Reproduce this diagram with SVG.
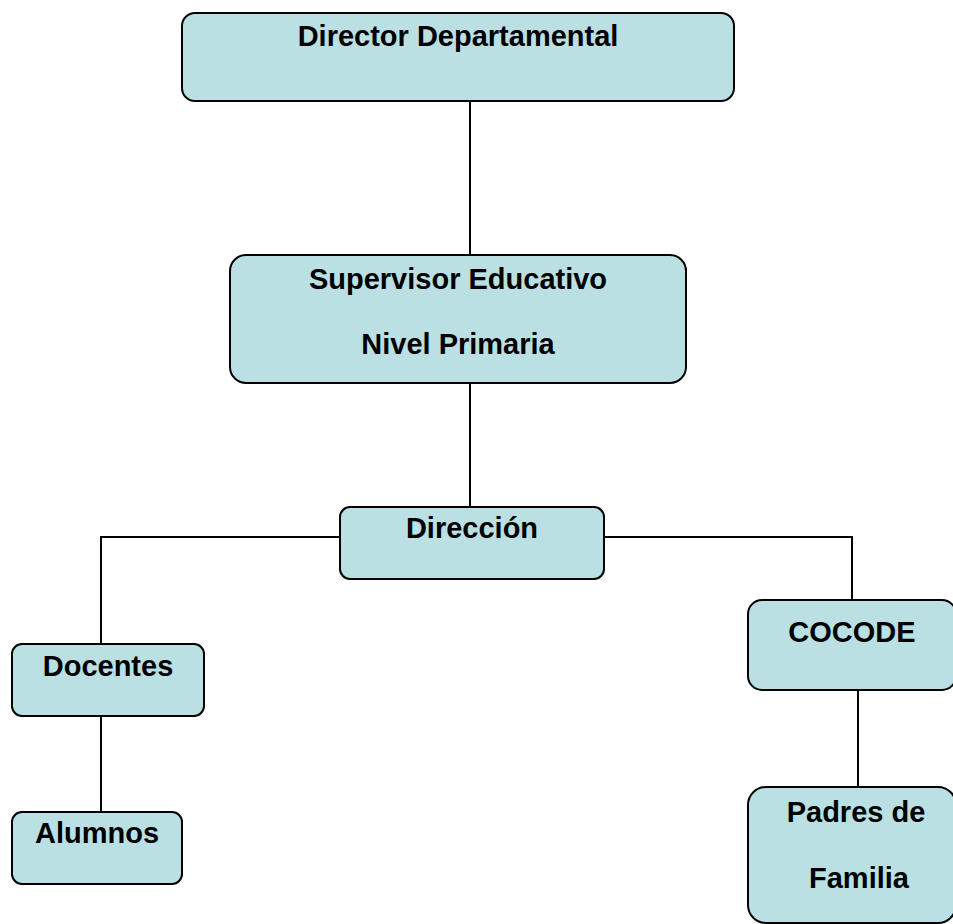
<svg xmlns="http://www.w3.org/2000/svg" width="953" height="924" viewBox="0 0 953 924">
<style>
.box{fill:#bae0e3;stroke:#000;stroke-width:2}
.lbl{font-family:"Liberation Sans",Arial,sans-serif;font-weight:bold;font-size:29px;fill:#000;text-anchor:middle}
.conn{fill:none;stroke:#000;stroke-width:2}
</style>
<rect x="0" y="0" width="953" height="924" fill="#fff"/>
<g id="connectors">
<path class="conn" d="M470,101 V255"/>
<path class="conn" d="M470,383 V507"/>
<path class="conn" d="M340,537 H101 V644"/>
<path class="conn" d="M604,537 H852 V600"/>
<path class="conn" d="M101,716 V812"/>
<path class="conn" d="M858,690 V787"/>
</g>
<g id="director">
<rect class="box" x="182" y="13" width="552" height="88" rx="13"/>
<text class="lbl" x="458" y="46">Director Departamental</text>
</g>
<g id="supervisor">
<rect class="box" x="230" y="255" width="456" height="128" rx="16"/>
<text class="lbl" x="458" y="289">Supervisor Educativo</text>
<text class="lbl" x="458" y="354">Nivel Primaria</text>
</g>
<g id="direccion">
<rect class="box" x="340" y="507" width="264" height="72" rx="10"/>
<text class="lbl" x="472" y="538">Dirección</text>
</g>
<g id="docentes">
<rect class="box" x="12" y="644" width="192" height="72" rx="10"/>
<text class="lbl" x="108" y="676">Docentes</text>
</g>
<g id="alumnos">
<rect class="box" x="12" y="812" width="170" height="72" rx="10"/>
<text class="lbl" x="97" y="843">Alumnos</text>
</g>
<g id="cocode">
<rect class="box" x="748" y="600" width="208" height="90" rx="14"/>
<text class="lbl" x="852" y="642">COCODE</text>
</g>
<g id="padres">
<rect class="box" x="748" y="787" width="208" height="136" rx="18"/>
<text class="lbl" x="856" y="822">Padres de</text>
<text class="lbl" x="859" y="888">Familia</text>
</g>
</svg>
